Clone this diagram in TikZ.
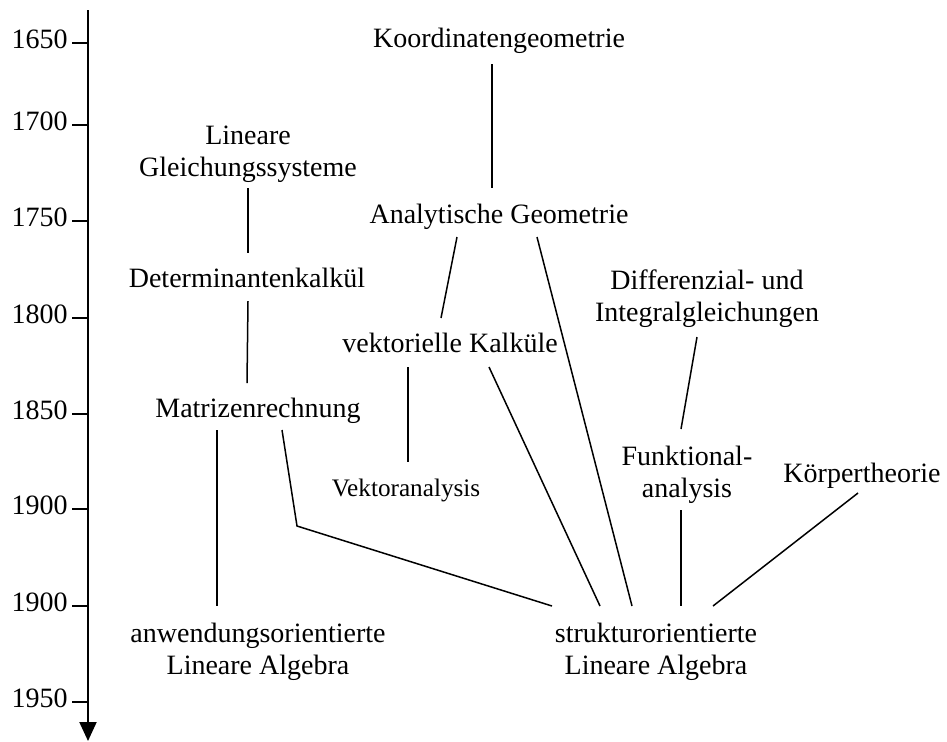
\documentclass[tikz,border=0pt]{standalone}
\usepackage{fontspec}
\setmainfont{Liberation Serif}
\usetikzlibrary{arrows.meta,calc}

\tikzset{
    topic/.style={inner sep=0pt, align=center, font=\fontsize{14}{16}\selectfont},
    small topic/.style={inner sep=0pt, align=center, font=\fontsize{12.6}{15}\selectfont},
    year/.style={inner sep=0pt, anchor=base east, font=\fontsize{14}{16}\selectfont},
    link/.style={line width=0.75pt},
    timeline/.style={line width=1pt, -{Triangle[length=9.5pt,width=8.5pt]}}
}

\begin{document}
\begin{tikzpicture}[x=0.5pt, y=-0.5pt]
        \useasboundingbox (0,0) rectangle (947,741);
        % \draw[help lines, step=50] (0,0) grid (947,741);

        % time axis
        \coordinate (top) at (88,10);
        \coordinate (bottom) at (88,741);
        \draw[timeline] (top) -- (bottom);

        \draw[link] (72,43) -- (88,43);   \node[year] at (68,48) (y1650) {1650};
        \draw[link] (72,125) -- (88,125); \node[year] at (68,130) (y1700) {1700};
        \draw[link] (72,221) -- (88,221); \node[year] at (68,226) (y1750) {1750};
        \draw[link] (72,318) -- (88,318); \node[year] at (68,323) (y1800) {1800};
        \draw[link] (72,414) -- (88,414); \node[year] at (68,419) (y1850) {1850};
        \draw[link] (72,509) -- (88,509); \node[year] at (68,514) (y1900a) {1900};
        \draw[link] (72,606) -- (88,606); \node[year] at (68,611) (y1900b) {1900};
        \draw[link] (72,702) -- (88,702); \node[year] at (68,707) (y1950) {1950};

        % topics
        \node[topic] at (499,40.5) (koord) {Koordinatengeometrie};
        \node[topic] at (248,154.5) (lgs) {Lineare\\Gleichungssysteme};
        \node[topic] at (499,216.5) (analyt) {Analytische Geometrie};
        \node[topic] at (247,277.5) (determ) {Determinantenkalkül};
        \node[topic] at (707,298.5) (diffint) {Differenzial- und\\Integralgleichungen};
        \node[topic] at (450,342.5) (vektkalk) {vektorielle Kalküle};
        \node[topic] at (258,410.5) (matrix) {Matrizenrechnung};
        \node[small topic] at (406,490) (vektana) {Vektoranalysis};
        \node[topic] at (687,474.5) (funkt) {Funktional-\\analysis};
        \node[topic] at (862,475.5) (koerper) {Körpertheorie};
        \node[topic] at (258,652) (anwend) {anwendungsorientierte\\Lineare Algebra};
        \node[topic] at (656,652) (struktur) {strukturorientierte\\Lineare Algebra};

        % connections
        \draw[link] ($(koord)+(-7,23.5)$) -- ($(analyt)+(-7,-28.5)$);
        \draw[link] ($(lgs)+(0,33.5)$) -- ($(determ)+(1,-24.5)$);
        \draw[link] ($(determ)+(1,23.5)$) -- ($(matrix)+(-11,-27.5)$);
        \draw[link] ($(analyt)+(-42,20.5)$) -- ($(vektkalk)+(-9,-24.5)$);
        \draw[link] ($(analyt)+(38,20.5)$) -- ($(struktur)+(-24,-46)$);
        \draw[link] ($(vektkalk)+(-42,24.5)$) -- ($(vektana)+(2,-28)$);
        \draw[link] ($(vektkalk)+(39,24.5)$) -- ($(struktur)+(-56,-46)$);
        \draw[link] ($(matrix)+(24,19.5)$) -- ($(matrix)+(39,115.5)$) -- ($(struktur)+(-104,-46)$);
        \draw[link] ($(matrix)+(-41,19.5)$) -- ($(anwend)+(-41,-46)$);
        \draw[link] ($(diffint)+(-10,38.5)$) -- ($(funkt)+(-6,-45.5)$);
        \draw[link] ($(funkt)+(-6,35.5)$) -- ($(struktur)+(25,-46)$);
        \draw[link] ($(koerper)+(-4,17.5)$) -- ($(struktur)+(57,-46)$);

    \end{tikzpicture}
\end{document}
